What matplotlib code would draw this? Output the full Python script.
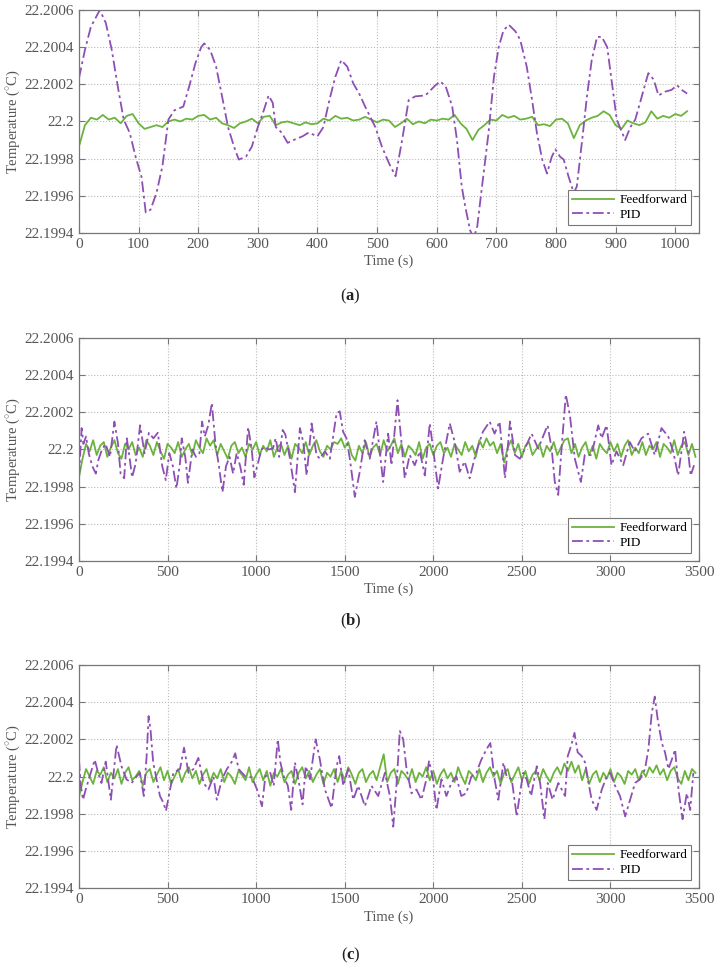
import numpy as np
import matplotlib
matplotlib.use("Agg")
import matplotlib.pyplot as plt

plt.rcParams["font.family"] = ["Liberation Serif", "DejaVu Serif"]
plt.rcParams["mathtext.fontset"] = "custom"
plt.rcParams["mathtext.rm"] = "Liberation Serif"
plt.rcParams["mathtext.bf"] = "Liberation Serif:bold"

# all temperatures stored as deviation from 22.2 C, in units of 1e-4 C
base = 22.2
scale = 1e-4

# ---- panel (a) ----
t_pid_a = [0, 10, 20, 30, 35, 45, 55, 65, 75, 85,
           95, 105, 112, 120, 130, 140, 150, 160, 175, 185,
           195, 205, 210, 220, 230, 240, 250, 260, 268, 280,
           290, 300, 310, 318, 325, 330, 340, 350, 360, 375,
           385, 400, 410, 420, 430, 440, 450, 460, 470, 480,
           497, 508, 520, 531, 542, 553, 564, 581, 598, 606,
           615, 626, 634, 642, 648, 656, 662, 668, 676, 687,
           696, 704, 712, 721, 732, 740, 751, 760, 768, 777,
           785, 793, 799, 807, 813, 821, 830, 835, 844, 852,
           860, 869, 877, 886, 894, 902, 911, 916, 925, 933,
           941, 950, 955, 964, 972, 983, 994, 1003, 1011, 1020]
pid_a = [2.33, 3.85, 5.1, 5.7, 6.0, 5.3, 3.85, 1.9, 0.1, -0.6,
         -1.9, -3.0, -4.9, -4.75, -3.85, -2.4, 0.1, 0.6, 0.8, 1.9,
         3.1, 4.0, 4.2, 3.85, 2.95, 1.35, -0.3, -1.35, -2.05, -1.9,
         -1.35, -0.3, 0.6, 1.4, 1.0, -0.3, -0.6, -1.15, -1.0, -0.8,
         -0.6, -0.8, -0.3, 1.15, 2.4, 3.3, 2.95, 2.05, 1.5, 0.8,
         -0.3, -1.35, -2.25, -2.95, -1.0, 1.15, 1.35, 1.4, 1.95, 2.15,
         1.9, 0.8, -1.0, -3.5, -4.6, -5.85, -6.3, -5.65, -3.5, -0.6,
         2.4, 4.0, 4.9, 5.2, 4.85, 4.4, 2.95, 1.15, -0.6, -2.05,
         -2.8, -1.9, -1.5, -1.9, -2.05, -2.95, -3.85, -3.5, -1.0, 1.35,
         3.3, 4.55, 4.55, 4.0, 2.05, 0.1, -0.6, -1.0, -0.3, 0.1,
         1.0, 2.05, 2.6, 2.25, 1.4, 1.6, 1.7, 1.95, 1.7, 1.5]

t_ff_a = np.arange(0, 1021, 10)
ff_a = [-1.35, -0.2, 0.2, 0.1, 0.35, 0.1, 0.2, -0.1, 0.3, 0.4,
        -0.1, -0.4, -0.3, -0.2, -0.3, 0.0, 0.1, 0.0, 0.15, 0.1,
        0.3, 0.35, 0.1, 0.2, -0.1, -0.2, -0.35, -0.1, 0.0, 0.15,
        -0.1, 0.25, 0.3, -0.2, -0.05, 0.0, -0.1, -0.2, -0.05, -0.15,
        -0.1, 0.15, 0.05, 0.3, 0.15, 0.2, 0.05, 0.1, 0.25, 0.1,
        -0.05, 0.1, 0.05, -0.3, -0.1, 0.15, -0.15, 0.0, -0.1, 0.1,
        0.05, 0.15, 0.1, 0.35, -0.1, -0.4, -1.0, -0.45, -0.2, 0.1,
        0.05, 0.35, 0.2, 0.3, 0.1, 0.15, 0.25, -0.2, -0.15, -0.25,
        0.1, 0.15, -0.1, -0.9, -0.2, 0.05, 0.2, 0.3, 0.55, 0.35,
        -0.2, -0.4, 0.05, -0.1, -0.2, -0.05, 0.55, 0.15, 0.3, 0.2,
        0.4, 0.3, 0.55]

# ---- panel (b) ----
t_pid_b = [0, 15, 25, 40, 55, 75, 95, 110, 130, 150,
           175, 200, 220, 235, 255, 270, 285, 300, 320, 345,
           370, 395, 420, 445, 470, 490, 510, 530, 550, 570,
           580, 600, 615, 640, 660, 680, 695, 710, 730, 750,
           770, 790, 810, 830, 850, 870, 890, 910, 930, 955,
           975, 990, 1010, 1030, 1050, 1070, 1095, 1110, 1130, 1150,
           1165, 1191, 1219, 1247, 1266, 1285, 1313, 1341, 1360, 1388,
           1416, 1454, 1472, 1491, 1510, 1529, 1557, 1585, 1613, 1641,
           1679, 1698, 1717, 1745, 1764, 1798, 1820, 1839, 1867, 1895,
           1924, 1952, 1980, 1999, 2027, 2055, 2093, 2121, 2149, 2177,
           2205, 2243, 2280, 2318, 2346, 2374, 2405, 2433, 2461, 2489,
           2517, 2555, 2592, 2645, 2668, 2686, 2705, 2724, 2748, 2771,
           2799, 2833, 2855, 2893, 2931, 2950, 2978, 3006, 3034, 3072,
           3109, 3137, 3175, 3213, 3250, 3288, 3326, 3354, 3382, 3416,
           3438, 3453, 3472]
pid_b = [-1.5, 1.15, 0.3, 0.7, -0.2, -0.9, -1.3, -0.55, 0.0, 0.3,
         -0.4, 1.5, 0.33, -1.3, -1.55, 0.6, -0.4, -1.5, -0.75, 1.3,
         -0.2, 0.9, 0.6, 0.9, -0.9, -1.65, -0.2, -0.9, -2.1, -0.75,
         0.6, -0.4, -1.8, 0.0, -0.4, -0.2, 1.5, 0.7, 1.3, 2.5,
         0.33, -0.9, -2.3, -0.9, -0.4, -1.3, -0.2, -0.9, -1.9, 1.2,
         0.0, -1.5, -0.75, 0.0, 0.15, 0.0, 0.05, 0.6, -0.4, 1.05,
         0.8, -0.5, -2.3, 1.15, 0.4, -1.4, 1.4, -0.3, -0.5, -0.1,
         -0.5, 1.95, 2.05, 0.95, 0.6, -0.5, -2.55, -1.2, 0.5, -0.5,
         1.5, -0.1, -1.75, 0.85, -0.85, 2.65, 0.4, -1.55, -0.3, -0.85,
         -0.1, -1.4, 1.4, 0.05, -2.1, -0.5, 1.4, 0.4, -1.2, -0.65,
         -1.55, -0.1, 0.95, 1.5, 0.85, 1.5, -1.55, 1.5, -0.3, -0.5,
         0.05, 0.85, 0.05, 1.3, 0.05, -1.75, -2.45, 0.05, 2.95, 1.85,
         -0.5, -1.75, -0.3, -0.3, 1.3, 0.6, 1.3, -0.85, -0.1, -0.85,
         0.4, -0.1, 0.6, 0.85, -0.3, 1.15, 0.7, -0.1, -1.4, 0.95,
         -0.1, -1.4, -0.85]

t_ff_b = np.arange(0, 3481, 20)
ff_b = [-1.5, -0.5, 0.3, -0.1, 0.5, -0.3, 0.2, 0.4, -0.4, 0.1,
        0.5, -0.2, -0.5, 0.3, 0.0, 0.4, -0.3, 0.1, -0.4, 0.5,
        0.2, -0.3, 0.4, -0.1, -0.5, 0.3, 0.1, -0.2, 0.4, -0.4,
        0.0, 0.3, -0.3, 0.5, 0.1, -0.2, 0.6, 0.2, 0.5, -0.3,
        0.3, -0.1, -0.5, 0.2, 0.4, -0.2, 0.1, -0.4, 0.3, 0.0,
        0.4, -0.3, 0.2, -0.1, 0.5, -0.4, 0.1, 0.3, -0.3, 0.2,
        -0.5, 0.3, 0.1, -0.2, 0.4, -0.3, 0.2, 0.5, -0.1, -0.4,
        0.2, 0.0, 0.4, 0.3, 0.6, 0.1, 0.4, -0.3, -0.6, 0.2,
        -0.2, 0.4, -0.4, 0.1, 0.3, -0.3, 0.5, -0.1, 0.2, 0.6,
        -0.2, 0.3, -0.4, 0.2, 0.0, -0.3, 0.4, -0.5, 0.1, 0.3,
        -0.3, 0.2, 0.4, -0.2, 0.1, -0.4, 0.3, 0.0, -0.3, 0.4,
        -0.1, 0.2, -0.4, 0.5, 0.1, 0.6, 0.2, 0.4, -0.2, 0.3,
        -0.7, 0.1, 0.5, -0.2, 0.3, -0.4, 0.2, 0.4, -0.3, 0.0,
        0.3, -0.4, 0.2, -0.1, 0.4, -0.3, 0.1, 0.5, 0.6, -0.2,
        0.3, -0.4, 0.1, 0.4, -0.3, 0.2, -0.5, 0.3, 0.0, -0.2,
        0.4, -0.1, 0.3, -0.4, 0.2, 0.5, -0.3, 0.1, -0.2, 0.4,
        -0.3, 0.2, 0.0, 0.4, -0.4, 0.3, 0.1, -0.2, 0.5, -0.3,
        0.2, 0.4, -0.3, 0.3, -0.4]

# ---- panel (c) ----
t_pid_c = [0, 10, 23, 38, 60, 89, 108, 127, 151, 180,
           212, 240, 268, 297, 325, 344, 366, 382, 393, 404,
           419, 438, 457, 476, 491, 514, 533, 570, 593, 618,
           646, 674, 703, 731, 759, 778, 807, 835, 863, 882,
           901, 939, 977, 1005, 1033, 1052, 1080, 1099, 1122, 1137,
           1156, 1179, 1198, 1219, 1241, 1262, 1280, 1304, 1336, 1360,
           1388, 1426, 1454, 1469, 1492, 1520, 1548, 1576, 1614, 1651,
           1689, 1727, 1755, 1774, 1793, 1811, 1830, 1849, 1877, 1905,
           1933, 1961, 1976, 1999, 2018, 2046, 2074, 2102, 2130, 2158,
           2186, 2215, 2243, 2271, 2299, 2322, 2346, 2367, 2396, 2414,
           2443, 2471, 2489, 2508, 2527, 2552, 2584, 2603, 2627, 2646,
           2673, 2706, 2744, 2759, 2778, 2797, 2815, 2838, 2857, 2876,
           2894, 2922, 2951, 2979, 2998, 3026, 3054, 3083, 3111, 3139,
           3167, 3195, 3214, 3233, 3250, 3267, 3290, 3308, 3327, 3346,
           3365, 3384, 3407, 3431, 3450, 3468]
pid_c = [0.9, -0.5, -1.25, -0.7, 0.0, 0.9, 0.2, -0.35, 0.8, -1.25,
         1.7, 0.55, -0.15, -0.35, 0.0, 0.2, -1.05, 1.1, 3.25, 2.5,
         0.75, -0.15, -1.05, -1.4, -1.85, -0.7, 0.2, 0.4, 1.55, 0.2,
         0.4, 1.0, -0.35, -0.7, 0.0, -1.25, -0.15, 0.4, 0.8, 1.25,
         0.4, 0.0, -0.05, -0.7, -1.6, 0.0, 0.2, -0.5, 2.0, 0.75,
         0.0, -0.5, -1.8, 0.75, -0.3, -1.5, 0.55, -0.15, 2.0, 0.9,
         -0.7, -1.7, 0.55, 1.1, -0.5, 0.4, -1.25, -0.5, -1.6, -0.5,
         -1.05, 0.2, -1.05, -2.7, -0.35, 2.45, 2.0, 0.4, -0.9, -0.7,
         -1.25, -0.15, 0.85, -0.15, -1.8, -0.15, -1.05, -0.35, 0.0, -1.05,
         -0.9, 0.0, 0.2, 0.9, 1.45, 1.8, -0.15, -1.25, 0.75, 0.0,
         -0.15, -2.15, -0.9, 0.2, -0.15, -1.05, 0.55, -0.35, -2.3, -0.35,
         -1.25, -0.35, -1.05, 1.1, 1.65, 2.35, 1.3, 1.1, 0.75, -0.35,
         -1.25, -1.8, -0.7, 0.0, 0.2, -0.5, -1.05, -2.15, -1.25, -0.35,
         -0.15, 0.4, 1.45, 3.4, 4.3, 3.05, 1.8, 1.3, 0.4, 0.9,
         1.45, -0.7, -2.3, -0.9, -1.8, 0.2]

t_ff_c = np.arange(0, 3481, 20)
ff_c = [-1.1, -0.3, 0.4, 0.0, -0.4, 0.3, 0.1, 0.5, -0.3, 0.2,
        -0.1, 0.4, -0.4, 0.2, 0.5, -0.2, 0.0, 0.3, -0.5, 0.2,
        0.4, -0.3, 0.1, 0.5, -0.2, 0.3, -0.4, 0.0, 0.4, -0.3,
        0.2, 0.5, -0.1, 0.3, -0.4, 0.1, 0.4, -0.3, 0.2, -0.1,
        0.4, -0.3, 0.2, 0.0, -0.4, 0.3, 0.1, -0.2, 0.5, -0.3,
        0.1, 0.4, -0.2, 0.3, -0.5, 0.2, 0.0, 0.4, -0.3, 0.1,
        0.3, -0.4, 0.2, 0.5, -0.1, 0.3, -0.3, 0.1, 0.4, -0.4,
        0.2, 0.0, 0.4, -0.3, 0.3, -0.2, 0.5, 0.1, -0.4, 0.2,
        0.4, -0.3, 0.1, 0.3, -0.2, 0.5, 1.2, -0.3, 0.2, 0.4,
        -0.4, 0.3, 0.1, -0.2, 0.4, -0.3, 0.2, 0.0, 0.5, -0.2,
        0.3, -0.4, 0.1, 0.4, -0.1, 0.2, -0.3, 0.5, 0.0, -0.4,
        0.3, 0.1, -0.2, 0.4, -0.3, 0.2, 0.5, 0.0, 0.3, -0.4,
        0.2, 0.4, -0.3, 0.1, 0.5, -0.2, 0.3, -0.4, 0.1, 0.3,
        -0.2, 0.4, 0.0, -0.3, 0.2, 0.5, 0.1, 0.7, 0.3, 0.8,
        0.2, 0.6, -0.2, 0.4, -0.4, 0.1, 0.3, -0.3, 0.2, -0.1,
        0.4, -0.3, 0.2, 0.0, -0.4, 0.3, 0.1, 0.4, -0.2, 0.3,
        0.0, 0.5, 0.2, 0.6, 0.1, 0.4, -0.2, 0.3, 0.5, -0.1,
        -0.4, 0.3, -0.2, 0.4, 0.2]

yticks = [-6, -4, -2, 0, 2, 4, 6]
ytick_labels = ["22.1994", "22.1996", "22.1998", "22.2", "22.2002", "22.2004", "22.2006"]

green = "#6cb33e"
purple = "#8e4fb5"
gray = "#555555"

fig = plt.figure(figsize=(7.16, 9.67), dpi=100)

panels = [
    (0.7591, t_ff_a, ff_a, t_pid_a, pid_a, 1040, [0, 100, 200, 300, 400, 500, 600, 700, 800, 900, 1000], "a", 0.694),
    (0.4199, t_ff_b, ff_b, t_pid_b, pid_b, 3500, [0, 500, 1000, 1500, 2000, 2500, 3000, 3500], "b", 0.357),
    (0.0817, t_ff_c, ff_c, t_pid_c, pid_c, 3500, [0, 500, 1000, 1500, 2000, 2500, 3000, 3500], "c", 0.012),
]

for bottom, t_ff, ff, t_pid, pid, xmax, xticks, tag, label_y in panels:
    ax = fig.add_axes([0.1103, bottom, 0.866, 0.2306])
    ax.plot(t_ff, base + np.array(ff) * scale, color=green, lw=1.3, label="Feedforward")
    ax.plot(t_pid, base + np.array(pid) * scale, color=purple, lw=1.3,
            dashes=(6, 2, 1.5, 2), label="PID")

    ax.set_xlim(0, xmax)
    ax.set_ylim(base - 6 * scale, base + 6 * scale)
    ax.set_xticks(xticks)
    ax.set_yticks([base + v * scale for v in yticks])
    ax.set_yticklabels(ytick_labels)

    ax.grid(True, ls=":", lw=0.8, color="#bbbbbb")
    ax.tick_params(direction="in", length=4, width=0.8, colors="#777777",
                   labelcolor=gray, labelsize=11, top=True, right=True)
    for s in ax.spines.values():
        s.set_color("#777777")
        s.set_linewidth(0.9)

    ax.set_xlabel("Time (s)", fontsize=10.5, color=gray, labelpad=3)
    ax.set_ylabel(r"Temperature ($^{\circ}$C)", fontsize=10.5, color=gray, labelpad=2)

    leg = ax.legend(loc="lower right", fontsize=9.5, fancybox=False, framealpha=1,
                    edgecolor="#777777", handlelength=3.2, borderaxespad=0.6,
                    borderpad=0.3, labelspacing=0.2, handletextpad=0.4)
    leg.get_frame().set_linewidth(0.8)

    fig.text(0.49, label_y, r"($\mathbf{" + tag + r"}$)", ha="center", va="center",
             fontsize=12, color="#222222")

plt.savefig("out.png", dpi=100)
